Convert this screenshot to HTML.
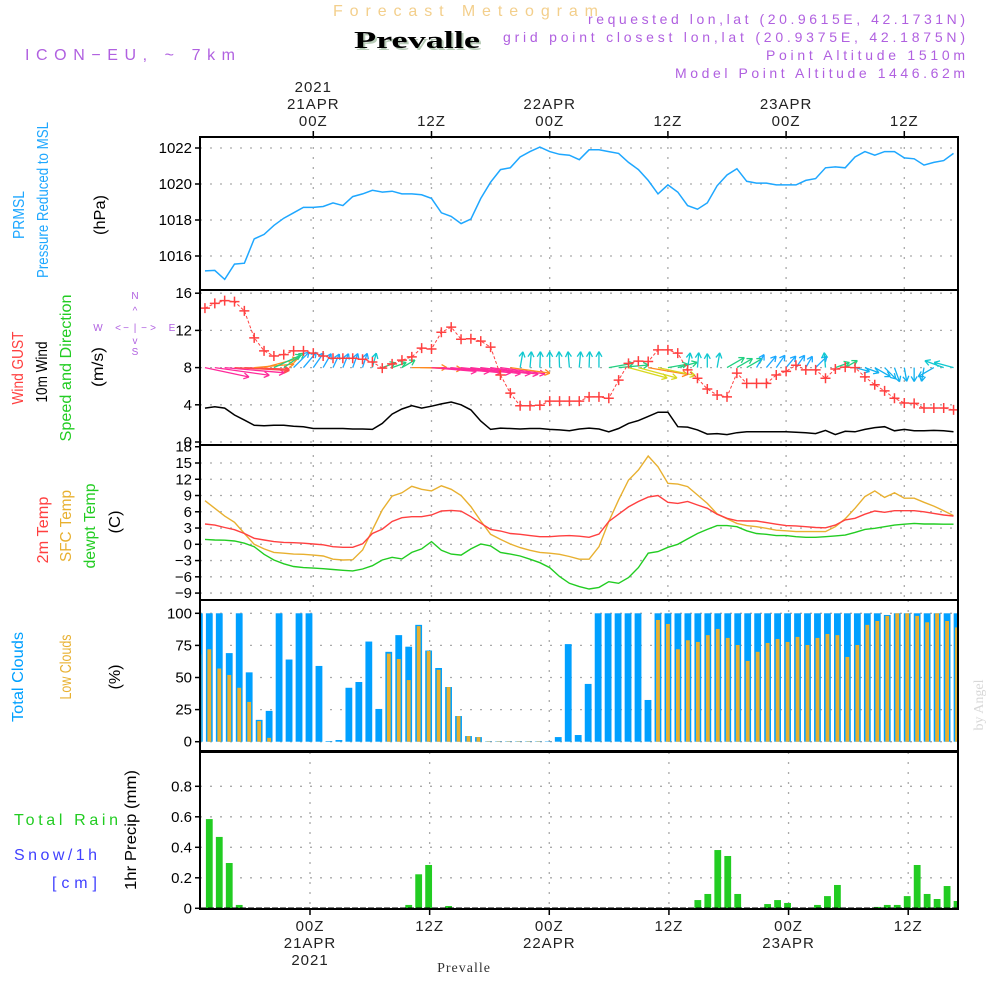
<!DOCTYPE html>
<html><head><meta charset="utf-8">
<style>
html,body{margin:0;padding:0;background:#fff;}
svg{display:block;font-family:"Liberation Sans",sans-serif;}
</style></head>
<body>
<svg id="chart" width="1000" height="1000" viewBox="0 0 1000 1000" xmlns="http://www.w3.org/2000/svg">
<rect x="0" y="0" width="1000" height="1000" fill="#fff"/>
<!-- header -->
<text x="333" y="16" font-size="16" textLength="265" lengthAdjust="spacing" fill="#f3cf8c">Forecast Meteogram</text>
<text x="356" y="50" font-family="Liberation Serif,serif" font-weight="bold" font-size="24" textLength="126" lengthAdjust="spacingAndGlyphs" fill="#b8ccb8">Prevalle</text>
<text x="354" y="48" font-family="Liberation Serif,serif" font-weight="bold" font-size="24" textLength="126" lengthAdjust="spacingAndGlyphs" fill="#000">Prevalle</text>
<text x="25" y="60" font-size="16" textLength="210" lengthAdjust="spacing" fill="#b060e0">ICON−EU, ~ 7km</text>
<g font-size="14" fill="#b060e0">
<text x="588" y="24" textLength="377" lengthAdjust="spacing">requested lon,lat (20.9615E, 42.1731N)</text>
<text x="503" y="42" textLength="462" lengthAdjust="spacing">grid point closest lon,lat (20.9375E, 42.1875N)</text>
<text x="766" y="60" textLength="199" lengthAdjust="spacing">Point Altitude 1510m</text>
<text x="675" y="78" textLength="290" lengthAdjust="spacing">Model Point Altitude 1446.62m</text>
</g>
<!-- left titles -->
<g font-size="16" text-anchor="middle" lengthAdjust="spacingAndGlyphs">
<text transform="translate(24,215) rotate(-90)" textLength="48" lengthAdjust="spacingAndGlyphs" fill="#1ea7ff">PRMSL</text>
<text transform="translate(48,200) rotate(-90)" textLength="156" lengthAdjust="spacingAndGlyphs" fill="#1ea7ff">Pressure Reduced to MSL</text>
<text transform="translate(105,215) rotate(-90)" textLength="40" lengthAdjust="spacingAndGlyphs" fill="#000">(hPa)</text>
<text transform="translate(23,368) rotate(-90)" textLength="73" lengthAdjust="spacingAndGlyphs" fill="#ff4040">Wind GUST</text>
<text transform="translate(47,372) rotate(-90)" textLength="61" lengthAdjust="spacingAndGlyphs" fill="#000">10m Wind</text>
<text transform="translate(71,368) rotate(-90)" textLength="147" lengthAdjust="spacingAndGlyphs" fill="#22cc22">Speed and Direction</text>
<text transform="translate(103,367) rotate(-90)" textLength="40" lengthAdjust="spacingAndGlyphs" fill="#000">(m/s)</text>
<text transform="translate(48,530) rotate(-90)" textLength="67" lengthAdjust="spacingAndGlyphs" fill="#ff4040">2m Temp</text>
<text transform="translate(71,526) rotate(-90)" textLength="72" lengthAdjust="spacingAndGlyphs" fill="#e8b030">SFC Temp</text>
<text transform="translate(95,526) rotate(-90)" textLength="85" lengthAdjust="spacingAndGlyphs" fill="#22cc22">dewpt Temp</text>
<text transform="translate(120,522) rotate(-90)" textLength="23" lengthAdjust="spacingAndGlyphs" fill="#000">(C)</text>
<text transform="translate(23,677) rotate(-90)" textLength="90" lengthAdjust="spacingAndGlyphs" fill="#00a0ff">Total Clouds</text>
<text transform="translate(71,667) rotate(-90)" textLength="65" lengthAdjust="spacingAndGlyphs" fill="#e8b030">Low Clouds</text>
<text transform="translate(120,677) rotate(-90)" textLength="25" lengthAdjust="spacingAndGlyphs" fill="#000">(%)</text>
<text transform="translate(136,830) rotate(-90)" textLength="120" lengthAdjust="spacingAndGlyphs" fill="#000">1hr Precip (mm)</text>
</g>
<text x="14" y="825" font-size="16" textLength="104" lengthAdjust="spacing" fill="#22cc22">Total  Rain</text>
<text x="14" y="860" font-size="16" textLength="83" lengthAdjust="spacing" fill="#4040ff">Snow/1h</text>
<text x="52" y="888" font-size="16" textLength="45" lengthAdjust="spacing" fill="#4040ff">[cm]</text>
<text transform="translate(983,705) rotate(-90)" text-anchor="middle" font-family="Liberation Serif,serif" font-size="14" fill="#d8d8d8">by Angel</text>
<text x="464" y="972" text-anchor="middle" font-family="Liberation Serif,serif" font-size="14" letter-spacing="1" fill="#333">Prevalle</text>
<!-- compass -->
<g fill="#b060e0" font-size="10" text-anchor="middle">
<text x="135" y="299">N</text><text x="135" y="314">^</text>
<text x="98" y="331">W</text><text x="118" y="331">&lt;</text><text x="126" y="331">−</text><text x="135" y="331">|</text><text x="144" y="331">−</text><text x="153" y="331">&gt;</text><text x="172" y="331">E</text>
<text x="135" y="344">v</text><text x="135" y="355">S</text>
</g>
<g id="plots"></g>
</svg>
<script>
// ---- data ----
const pressure = [1015.17,1015.2,1014.7,1015.55,1015.6,1016.95,1017.2,1017.7,1018.1,1018.4,1018.7,1018.7,1018.75,1018.95,1018.8,1019.3,1019.45,1019.65,1019.55,1019.6,1019.45,1019.45,1019.4,1019.2,1018.4,1018.2,1017.8,1018.05,1019.2,1020.1,1020.8,1020.9,1021.5,1021.8,1022.05,1021.8,1021.65,1021.6,1021.35,1021.9,1021.9,1021.8,1021.7,1021.2,1020.8,1020.2,1019.45,1019.95,1019.55,1018.8,1018.6,1018.95,1019.9,1020.5,1020.85,1020.15,1020.05,1020.05,1019.95,1019.95,1019.95,1020.2,1020.3,1020.9,1020.95,1020.9,1021.5,1021.8,1021.6,1021.8,1021.8,1021.45,1021.4,1021.05,1021.2,1021.3,1021.7];
const windGust = [14.4,14.9,15.2,15.1,14.1,11.2,9.8,9.25,9.4,9.8,9.8,9.55,9.25,9.0,9.0,9.0,8.9,8.6,7.95,8.4,8.8,9.15,10.1,10.0,11.8,12.35,11.05,11.1,10.85,10.2,7.2,5.25,3.9,3.9,3.95,4.4,4.4,4.4,4.4,4.85,4.85,4.7,6.65,8.45,8.7,8.65,9.9,9.9,9.55,7.75,6.85,5.7,5.05,4.85,7.4,6.3,6.3,6.3,7.2,7.6,8.25,7.75,7.75,6.85,7.85,8.05,8.0,7.0,6.15,5.5,4.7,4.2,4.15,3.65,3.65,3.65,3.45];
const windSpeed = [3.65,3.8,3.65,2.9,2.35,1.8,1.75,1.8,1.8,1.7,1.65,1.45,1.45,1.45,1.45,1.4,1.4,1.35,2.0,3.0,3.55,3.9,3.65,3.85,4.1,4.3,4.0,3.45,2.25,1.35,1.5,1.45,1.4,1.45,1.45,1.35,1.3,1.2,1.4,1.5,1.4,1.1,1.45,2.0,2.3,2.75,3.2,3.2,1.65,1.6,1.3,0.85,0.9,0.8,1.0,1.1,1.1,1.1,1.1,1.1,1.05,1.0,0.9,1.25,0.8,1.15,1.1,1.35,1.55,1.65,1.2,1.35,1.2,1.2,1.25,1.2,1.1];
const windDir = [-12,-8,-5,-3,-2,5,15,25,35,45,50,55,60,65,68,70,72,75,20,20,30,0,-2,-5,-5,-6,-6,-7,-7,-8,-8,-8,80,85,88,90,92,95,85,88,90,10,5,-15,-15,-10,-12,10,15,80,85,90,80,30,30,30,60,50,55,50,55,60,45,95,20,30,-15,-20,-30,-45,-70,-80,-90,-100,-150,160,165];
const windLen = [45,55,60,55,45,40,35,30,25,22,20,18,16,15,15,15,15,15,14,15,15,35,40,45,48,50,50,50,50,48,45,40,16,16,16,16,16,16,16,16,16,25,30,40,40,40,38,20,20,15,15,14,15,20,18,18,15,15,15,15,15,13,16,15,15,14,15,15,18,16,15,14,14,14,18,20,20];
const temp2m = [3.75,3.55,3.1,2.7,2.0,1.1,0.8,0.5,0.35,0.3,0.2,0.05,-0.1,-0.45,-0.55,-0.55,0.1,2.0,2.8,4.2,4.9,5.1,5.1,5.4,6.15,6.25,6.1,5.1,3.9,2.75,2.45,2.0,1.85,1.6,1.4,1.4,1.55,1.6,1.5,1.3,1.9,4.2,5.55,6.9,7.9,8.7,9.0,7.75,7.55,7.9,7.25,6.65,5.55,4.8,4.35,4.3,4.3,4.0,3.7,3.45,3.4,3.25,3.1,3.05,3.55,4.5,4.8,5.55,6.15,5.9,6.2,6.2,6.2,6.0,5.7,5.4,5.2];
const tempSfc = [8.05,6.65,5.2,4.05,2.0,0,-0.85,-1.5,-1.65,-1.8,-1.85,-2.0,-2.15,-2.75,-2.9,-2.85,-1.05,2.65,6.35,8.9,9.5,10.7,10.15,9.85,10.8,10.15,9.0,6.95,4.3,1.85,0.9,0.05,-0.6,-1.1,-1.5,-1.65,-1.85,-2.25,-2.75,-2.75,-0.45,4.2,8.2,11.85,13.7,16.3,14.3,11.25,11.1,10.65,9.1,7.55,5.6,4.7,3.85,3.45,3.25,2.95,2.6,2.5,2.35,2.35,2.35,2.35,3.25,4.7,6.65,8.8,9.85,8.65,9.5,8.5,8.5,7.75,7.05,6.2,5.3];
const dewpt = [0.9,0.8,0.75,0.6,0.2,-0.45,-1.85,-2.9,-3.6,-4.1,-4.3,-4.4,-4.5,-4.65,-4.8,-4.9,-4.55,-3.95,-2.9,-2.4,-2.7,-1.5,-0.85,0.5,-1.1,-1.8,-2.0,-0.85,0.05,-0.3,-1.5,-1.8,-2.15,-2.75,-3.4,-4.3,-5.95,-7.2,-7.8,-8.25,-7.95,-6.9,-7.2,-6.15,-4.3,-1.65,-1.35,-0.55,0,1.0,2.0,2.75,3.45,3.45,3.25,2.5,2.0,1.85,1.6,1.6,1.4,1.3,1.3,1.4,1.55,1.7,2.2,2.75,2.95,3.25,3.55,3.7,3.85,3.75,3.75,3.7,3.7];
const totalClouds = [100,100,100,69,100,54,17,24,100,64,100,100,59,0.5,1.3,42,46.5,78,25.5,70,83,74,91,71,57.4,42.6,20,4.4,3.6,0.3,0.3,0.3,0.3,0.3,0.3,0.3,3.6,76,5.2,45,100,100,100,100,100,32.5,100,100,100,100,100,100,100,100,100,100,100,100,100,100,100,100,100,100,100,100,100,100,100,98.7,100,100,100,100,100,100,100];
const lowClouds = [68,72,57,52,42,31,16,3,0,0,0,0,0,0,0,0,0,0,0,68.6,64.4,48,90,70.6,56,42.6,20,4.4,3.6,0.3,0.3,0.3,0.3,0.3,0.3,0,0,0,0,0,0,0,0,0,0,0,94.8,91.7,72,79,77.7,83,87.8,80.8,75.3,62.9,70,76.9,80,77.7,81.6,75.3,80.8,83.9,83,66,75.3,91,94,98,100,100,98,93,100,94,89];
const precip = [0,0.585,0.468,0.297,0.022,0,0,0,0,0,0,0,0,0,0,0,0,0,0,0,0,0.022,0.223,0.284,0,0.015,0,0,0,0,0,0,0,0,0,0,0,0,0,0,0,0,0,0,0,0,0,0,0,0,0.054,0.094,0.382,0.343,0.094,0,0,0.028,0.054,0.035,0,0,0.022,0.08,0.153,0,0,0,0.009,0.022,0.022,0.08,0.284,0.094,0.061,0.146,0.048];
const pressTicks = [1016,1018,1020,1022];
const windTicks = [0,4,8,12,16];
const tempTicks = [-9,-6,-3,0,3,6,9,12,15,18];
const cloudTicks = [0,25,50,75,100];
const precipTicks = [0,0.2,0.4,0.6,0.8];
const precipTickLabels = ["0","0.2","0.4","0.6","0.8"];
const timeHours = [11,23,35,47,59,71];
const topTimeLabels = [["2021","21APR","00Z"],["12Z"],["22APR","00Z"],["12Z"],["23APR","00Z"],["12Z"]];
const bottomTimeLabels = [["00Z","21APR","2021"],["12Z"],["00Z","22APR"],["12Z"],["00Z","23APR"],["12Z"]];

// ---- axes ----
const X0=200, X1=958;
const xLine = h => 313.3 + (h-11)*9.85;
const xBar = k => 309 + (k-11)*9.97;
const yP = v => 256 - (v-1016)*18;
const yW = v => 442 - v*9.3;
const yT = v => 544.3 - v*5.42;
const yC = v => 741.7 - v*1.284;
const yR = v => 908.3 - v*152.5;
const NS="http://www.w3.org/2000/svg";
const root=document.getElementById('plots');
function mk(tag, attrs, parent){
  const e=document.createElementNS(NS,tag);
  for(const k in attrs) e.setAttribute(k,attrs[k]);
  (parent||root).appendChild(e);
  return e;
}
function grp(name){
  const g=mk('g',{});
  
  
  return g;
}
const panels=[
  {name:'pressure',top:137,bot:290,ticks:pressTicks,labels:pressTicks.map(String),y:yP,upper:true},
  {name:'wind',top:290,bot:445,ticks:windTicks,labels:windTicks.map(String),y:yW,upper:true},
  {name:'temp',top:445,bot:600,ticks:tempTicks,labels:tempTicks.map(v=>v<0?'−'+(-v):String(v)),y:yT,upper:true},
  {name:'clouds',top:600,bot:751,ticks:cloudTicks,labels:cloudTicks.map(String),y:yC,upper:false},
  {name:'precip',top:752,bot:909,ticks:precipTicks,labels:precipTickLabels,y:yR,upper:false}
];
panels.forEach(p=>{
  const g=grp(p.name+'-grid');
  p.ticks.forEach((t,i)=>{
    const y=p.y(t);
    if(y>p.top+2 && y<p.bot-2) mk('line',{x1:X0,x2:X1,y1:y,y2:y,stroke:'#aaa','stroke-width':1.3,'stroke-dasharray':'2,8'},g);
    mk('line',{x1:X0-5,x2:X0,y1:y,y2:y,stroke:'#000','stroke-width':1.5},g);
    const t2=mk('text',{x:X0-8,y:y+5,'text-anchor':'end','font-size':15,fill:'#000'},g);
    t2.textContent=p.labels[i];
  });
  timeHours.forEach(h=>{
    const x=p.upper?xLine(h):xBar(h)+1;
    mk('line',{x1:x,x2:x,y1:p.top,y2:p.bot,stroke:'#aaa','stroke-width':1.3,'stroke-dasharray':'2,8'},g);
  });
});
const tl=grp('top-time-axis');
timeHours.forEach((h,i)=>{
  const x=xLine(h);
  const lines=topTimeLabels[i];
  lines.forEach((s,j)=>{
    const t=mk('text',{x:x,y:126-(lines.length-1-j)*17,'text-anchor':'middle','font-size':15,'letter-spacing':1,fill:'#222'},tl);
    t.textContent=s;
  });
  mk('line',{x1:x,x2:x,y1:131,y2:137,stroke:'#000','stroke-width':1.5},tl);
});
const bl=grp('bottom-time-axis');
timeHours.forEach((h,i)=>{
  const x=xBar(h)+1;
  bottomTimeLabels[i].forEach((s,j)=>{
    const t=mk('text',{x:x,y:931+j*17,'text-anchor':'middle','font-size':15,'letter-spacing':1,fill:'#222'},bl);
    t.textContent=s;
  });
  mk('line',{x1:x,x2:x,y1:909,y2:915,stroke:'#000','stroke-width':1.5},bl);
});
const defs=mk('defs',{});
const cp=mk('clipPath',{id:'clip'},defs);
mk('rect',{x:X0,y:137,width:X1-X0,height:772},cp);
function pts(arr,yf){return arr.map((v,i)=>xLine(i).toFixed(1)+','+yf(v).toFixed(1)).join(' ');}
const pl=mk('polyline',{points:pts(pressure,yP),fill:'none',stroke:'#1ea7ff','stroke-width':1.5,'clip-path':'url(#clip)'});


const ws=mk('polyline',{points:pts(windSpeed,yW),fill:'none',stroke:'#000','stroke-width':1.5});


function arrowColor(a,len){
  if(len>=42) return a<-4?'#ff2a9a':'#ff4a4a';
  if(len>=32) return a<-10?'#d8d820':'#ff8a20';
  if(a>=75) return '#10c8d0';
  if(a>=40) return '#1aa8ff';
  if(a>=0) return '#20d080';
  return '#10b0f0';
}
const wa=grp('wind-arrows');
windDir.forEach((a,i)=>{
  const x=xLine(i), y=yW(8), L=windLen[i], r=a*Math.PI/180;
  const x2=x+L*Math.cos(r), y2=y-L*Math.sin(r);
  const c=arrowColor(a,L);
  const g=mk('g',{stroke:c,'stroke-width':1.3,fill:'none'},wa);
  
  
  mk('line',{x1:x,y1:y,x2:x2,y2:y2},g);
  [150,-150].forEach(d=>{
    const rr=r+d*Math.PI/180;
    mk('line',{x1:x2,y1:y2,x2:x2+6*Math.cos(rr),y2:y2-6*Math.sin(rr)},g);
  });
});
const gg=grp('wind-gust-series');
mk('polyline',{points:pts(windGust,yW),fill:'none',stroke:'#ff4040','stroke-width':1,'stroke-dasharray':'3,2'},gg);
windGust.forEach((v,i)=>{
  const x=xLine(i), y=yW(v);
  const m=mk('path',{d:`M${x-5},${y}H${x+5}M${x},${y-5}V${y+5}`,stroke:'#ff4040','stroke-width':1.5},gg);
  
  
});
[[tempSfc,'#e8b030','sfc-temp-line'],[temp2m,'#ff4040','temp-2m-line'],[dewpt,'#22cc22','dewpt-line']].forEach(s=>{
  const l=mk('polyline',{points:pts(s[0],yT),fill:'none',stroke:s[1],'stroke-width':1.4});
  
  
});
const cg=mk('g',{'clip-path':'url(#clip)'});


totalClouds.forEach((v,k)=>{
  const x=xBar(k);
  const b=mk('rect',{x:x-3.4,y:yC(v),width:6.8,height:yC(0)-yC(v),fill:'#00a0ff'},cg);
  
  
  const lv=lowClouds[k];
  const o=mk('rect',{x:x-1.9,y:yC(lv),width:3.8,height:yC(0)-yC(lv),fill:'#e8b030'},cg);
  
  
});
const rg=mk('g',{'clip-path':'url(#clip)'});


precip.forEach((v,k)=>{
  if(v<=0) return;
  const b=mk('rect',{x:xBar(k)-3.4,y:yR(v),width:6.8,height:yR(0)-yR(v),fill:'#22cc22'},rg);
  
  
});
mk('line',{x1:X0,x2:X1,y1:yR(0),y2:yR(0),stroke:'#000','stroke-width':1.5,'stroke-dasharray':'6,2'});
panels.forEach(p=>{
  const f=mk('rect',{x:X0,y:p.top,width:X1-X0,height:p.bot-p.top,fill:'none',stroke:'#000','stroke-width':2});
  
  
});
</script>
</body></html>
